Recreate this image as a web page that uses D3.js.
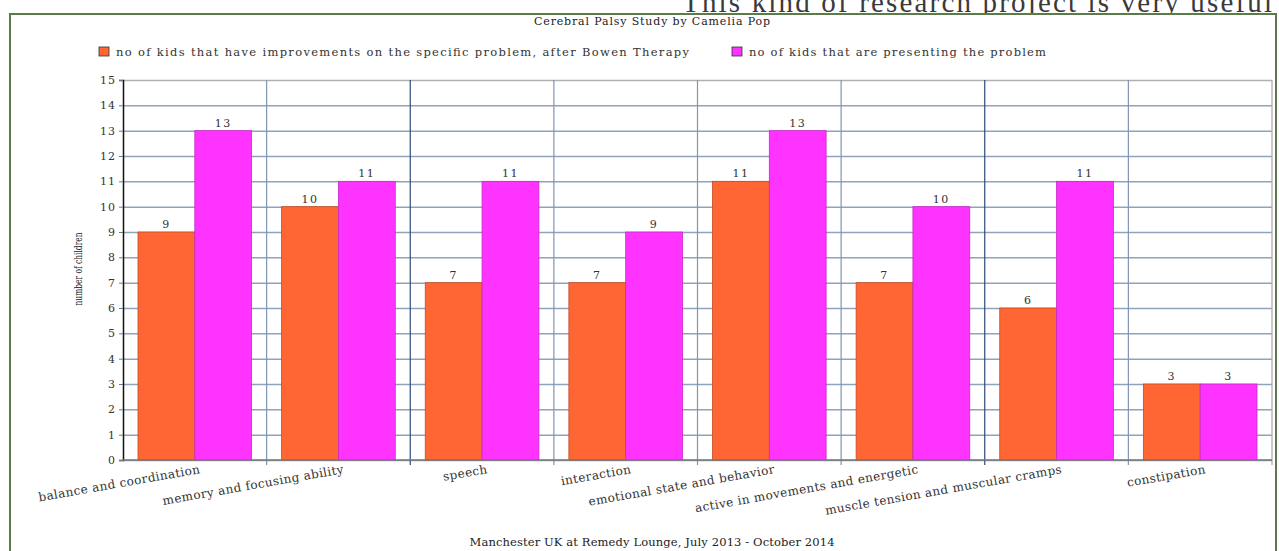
<!DOCTYPE html>
<html>
<head>
<meta charset="utf-8">
<script src="https://cdn.jsdelivr.net/npm/d3@7"></script>
<style>
  body { margin: 0; background: #fff; }
  svg { display: block; font-family: "DejaVu Serif", "Liberation Serif", serif; }
</style>
</head>
<body>
<svg id="chart"></svg>
<script>
// categories and the two series
const categories = [
    "balance and coordination",
    "memory and focusing ability",
    "speech",
    "interaction",
    "emotional state and behavior",
    "active in movements and energetic",
    "muscle tension and muscular cramps",
    "constipation"
];
const improved = [9, 10, 7, 7, 11, 7, 6, 3];
const presenting = [13, 11, 11, 9, 13, 10, 11, 3];
const seriesNames = [
    "no of kids that have improvements on the specific problem, after Bowen Therapy",
    "no of kids that are presenting the problem"
];
const yTicks = d3.range(0, 16);

const width = 1279;
const height = 551;
const plotLeft = 123, plotRight = 1272, plotTop = 80, plotBottom = 460;
const colors = ["#ff6633", "#ff33ff"];
const strokes = ["#c24a22", "#c828c8"];

const svg = d3.select("#chart")
    .attr("width", width)
    .attr("height", height)
    .style("background-color", "#fff");

// bit of the page heading above the chart frame (cut off at the top, as in the page)
svg.append("text")
    .attr("x", 1272)
    .attr("y", 12)
    .attr("text-anchor", "end")
    .attr("textLength", 590)
    .style("font-family", "'Liberation Serif', serif")
    .style("font-size", "29px")
    .style("fill", "#3a3a3a")
    .text("This kind of research project is very useful");

// green frame around the chart
svg.append("rect")
    .attr("x", 10)
    .attr("y", 14)
    .attr("width", 1266)
    .attr("height", 560)
    .attr("fill", "#fff")
    .attr("stroke", "#5b7b4b")
    .attr("stroke-width", 2);

const x = d3.scaleBand()
    .domain(categories)
    .range([plotLeft, plotRight]);

const xSub = d3.scaleBand()
    .domain([0, 1])
    .range([15, x.bandwidth() - 15]);

const y = d3.scaleLinear()
    .domain([0, 15])
    .range([plotBottom, plotTop]);

// horizontal grid
const yGrid = d3.axisLeft(y)
    .tickValues(yTicks)
    .tickSize(-(plotRight - plotLeft))
    .tickFormat("");

svg.append("g")
    .attr("transform", `translate(${plotLeft}, 0)`)
    .call(yGrid)
    .call(g => g.select(".domain").remove())
    .call(g => g.selectAll("line")
        .attr("stroke", d => d === 15 ? "#b0b0b0" : "#8fa3bd")
        .attr("stroke-width", 1.5));

// vertical grid at the category boundaries
const bounds = categories.map(c => x(c)).concat([plotRight]);
svg.append("g")
    .selectAll("line")
    .data(bounds.slice(1))
    .enter()
    .append("line")
        .attr("x1", d => d)
        .attr("x2", d => d)
        .attr("y1", plotTop)
        .attr("y2", plotBottom + 5)
        .attr("stroke", (d, i) => i === bounds.length - 2 ? "#a8a8a8" : (i === 1 || i === 5 ? "#2b4a78" : "#7f96b3"))
        .attr("stroke-width", 1.2);

// bars
const groups = svg.append("g")
    .selectAll("g")
    .data(categories)
    .enter()
    .append("g")
        .attr("transform", d => `translate(${x(d)}, 0)`);

[improved, presenting].forEach((vals, s) => {
    groups.append("rect")
        .attr("x", xSub(s))
        .attr("y", (d, i) => y(vals[i]))
        .attr("width", xSub.bandwidth())
        .attr("height", (d, i) => y(0) - y(vals[i]))
        .attr("fill", colors[s])
        .attr("stroke", strokes[s])
        .attr("stroke-width", 0.8);

    groups.append("text")
        .attr("x", xSub(s) + xSub.bandwidth() / 2)
        .attr("y", (d, i) => y(vals[i]) - 4)
        .attr("text-anchor", "middle")
        .style("font-size", "11px")
        .style("letter-spacing", "1.5px")
        .style("fill", "#333")
        .text((d, i) => vals[i]);
});

// y axis with labels
const yAxis = d3.axisLeft(y)
    .tickValues(yTicks)
    .tickSize(4)
    .tickPadding(3);

svg.append("g")
    .attr("transform", `translate(${plotLeft}, 0)`)
    .call(yAxis)
    .call(g => g.select(".domain").attr("stroke", "#111").attr("stroke-width", 1.5))
    .call(g => g.selectAll("line").attr("stroke", "#777"))
    .call(g => g.selectAll("text")
        .style("font-family", "'DejaVu Serif', serif")
        .style("font-size", "11px")
        .style("letter-spacing", "1px")
        .style("fill", "#333"));

// x baseline
svg.append("line")
    .attr("x1", plotLeft)
    .attr("x2", plotRight)
    .attr("y1", y(0))
    .attr("y2", y(0))
    .attr("stroke", "#777")
    .attr("stroke-width", 1.5);

// x labels, slanted
svg.append("g")
    .selectAll("text")
    .data(categories)
    .enter()
    .append("text")
        .attr("transform", d => `translate(${x(d) + x.bandwidth() / 2 + 6}, 473) rotate(-10)`)
        .attr("text-anchor", "end")
        .style("font-size", "12px")
        .style("letter-spacing", "0.4px")
        .style("fill", "#333")
        .text(d => d);

// y axis label
svg.append("text")
    .attr("transform", "rotate(-90)")
    .attr("x", -269)
    .attr("y", 82)
    .attr("text-anchor", "middle")
    .attr("textLength", 73)
    .attr("lengthAdjust", "spacingAndGlyphs")
    .style("font-size", "11px")
    .style("fill", "#222")
    .text("number of children");

// title
svg.append("text")
    .attr("x", 652)
    .attr("y", 25)
    .attr("text-anchor", "middle")
    .attr("textLength", 236)
    .style("font-size", "11px")
    .style("fill", "#222")
    .text("Cerebral Palsy Study by Camelia Pop");

// legend
const legendX = [99, 732];
const legendLen = [573, 297];
seriesNames.forEach((name, i) => {
    svg.append("rect")
        .attr("x", legendX[i])
        .attr("y", 47)
        .attr("width", 10)
        .attr("height", 9)
        .attr("fill", colors[i])
        .attr("stroke", "#333")
        .attr("stroke-width", 0.8);
    svg.append("text")
        .attr("x", legendX[i] + 17)
        .attr("y", 56)
        .attr("textLength", legendLen[i])
        .style("font-size", "11.5px")
        .style("fill", "#333")
        .text(name);
});

// footer
svg.append("text")
    .attr("x", 652)
    .attr("y", 546)
    .attr("text-anchor", "middle")
    .attr("textLength", 365)
    .style("font-size", "11.5px")
    .style("fill", "#222")
    .text("Manchester UK at Remedy Lounge, July 2013 - October 2014");
</script>
</body>
</html>
